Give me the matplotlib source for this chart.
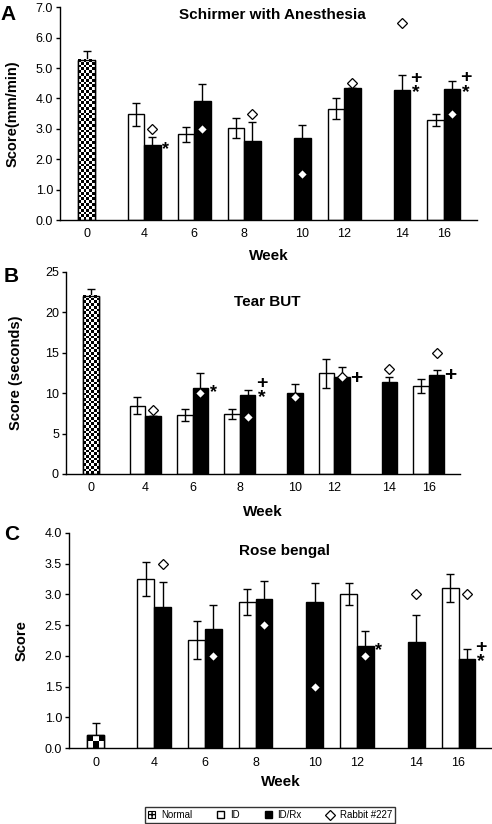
import numpy as np
import matplotlib.pyplot as plt
from matplotlib.patches import Patch
from matplotlib.lines import Line2D

plt.rcParams['font.family'] = ['Liberation Sans', 'DejaVu Sans']

nan = np.nan
weeks = ['4', '6', '8', '10', '12', '14', '16']

# A: Schirmer with anesthesia (mm/min)
schirmer_normal, schirmer_normal_err = 5.28, 0.28
schirmer_id = [3.48, 2.82, 3.02, nan, 3.67, nan, 3.29]
schirmer_id_err = [0.38, 0.25, 0.33, nan, 0.35, nan, 0.20]
schirmer_rx = [2.47, 3.93, 2.61, 2.71, 4.35, 4.28, 4.30]
schirmer_rx_err = [0.27, 0.55, 0.60, 0.42, 0.0, 0.50, 0.28]
schirmer_rabbit = [3.0, 3.0, 3.5, 1.5, 4.5, 6.5, 3.5]
schirmer_marks = ['*', '', '', '', '', '+*', '+*']

# B: Tear BUT (seconds)
but_normal, but_normal_err = 22.0, 0.85
but_id = [8.4, 7.3, 7.42, nan, 12.45, nan, 10.88]
but_id_err = [1.05, 0.75, 0.6, nan, 1.8, nan, 0.85]
but_rx = [7.2, 10.63, 9.77, 10.05, 12.03, 11.37, 12.28]
but_rx_err = [0.0, 1.8, 0.6, 1.05, 1.15, 0.6, 0.6]
but_rabbit = [7.9, 10.0, 7.0, 9.5, 12.0, 13.0, 15.0]
but_marks = ['', '*', '+*', '', '+', '', '+']

# C: Rose bengal score
rb_normal, rb_normal_err = 0.43, 0.40
rb_id = [3.25, 2.26, 2.88, nan, 3.0, nan, 3.1]
rb_id_err = [0.27, 0.31, 0.21, nan, 0.18, nan, 0.23]
rb_rx = [2.8, 2.43, 2.93, 2.87, 2.16, 2.22, 1.95]
rb_rx_err = [0.4, 0.4, 0.29, 0.32, 0.25, 0.45, 0.16]
rb_rabbit = [3.5, 2.0, 2.5, 1.5, 2.0, 3.0, 3.0]
rb_marks = ['', '', '', '', '*', '', '+*']

W = 0.33
NORMAL_X = -1.15
fig = plt.figure(figsize=(4.92, 8.24), dpi=100)


def checker(ax, bar, ncols):
    fig.canvas.draw()
    (x0, y0), (x1, y1) = bar.get_bbox().get_points()
    d0 = ax.transData.transform((x0, y0))
    d1 = ax.transData.transform((x1, y1))
    cell = abs(d1[0] - d0[0]) / ncols
    nrows = max(1, int(round(abs(d1[1] - d0[1]) / cell)))
    img = np.indices((nrows, ncols)).sum(axis=0) % 2
    xl, yl = ax.get_xlim(), ax.get_ylim()
    ax.imshow(img, cmap='gray', extent=(x0, x1, y0, y1), aspect='auto',
              interpolation='nearest', clip_path=bar, zorder=2.1)
    ax.bar(NORMAL_X, y1 - y0, W + 0.01, color='none', edgecolor='black',
           linewidth=1, zorder=2.2)
    ax.set_xlim(xl)
    ax.set_ylim(yl)


def panel(rect, title, ylabel, ymax, yticks, yfmt, normal, normal_err,
          idv, ide, rxv, rxe, rabbit, marks, letter, letter_y, title_y,
          ylab_x, xlab_pad, ncheck, scale=None):
    ax = fig.add_axes(rect)
    if scale is not None:
        ax.set_yscale('function', functions=scale)
    g = np.arange(len(weeks))
    idv, ide = np.array(idv), np.array(ide)
    has = ~np.isnan(idv)
    ek = dict(ecolor='black', elinewidth=1, capsize=2.8, capthick=1)
    nb = ax.bar(NORMAL_X, normal, W + 0.01, color='white', edgecolor='black',
                linewidth=1, yerr=normal_err, error_kw=ek, zorder=2)
    ax.bar(g[has] - W / 2, idv[has], W, yerr=ide[has], color='white',
           edgecolor='black', linewidth=1, error_kw=ek, zorder=2)
    ax.bar(g + W / 2, rxv, W, yerr=rxe, color='black', edgecolor='black',
           linewidth=1, error_kw=ek, zorder=2)
    ax.plot(g + W / 2, rabbit, 'D', ms=4.6, mfc='white', mec='black',
            mew=0.9, zorder=4, clip_on=False)
    # significance marks next to the ID/Rx bar
    for i, m in enumerate(marks):
        x = g[i] + W / 2
        if m == '*':
            ax.annotate('*', (x, rxv[i]), xytext=(9.5, -3.5),
                        textcoords='offset points', ha='center', va='center',
                        fontsize=13, fontweight='bold')
        elif m == '+':
            ax.annotate('+', (x, rxv[i]), xytext=(10, -1),
                        textcoords='offset points', ha='center', va='center',
                        fontsize=15, fontweight='bold')
        elif m == '+*':
            ax.annotate('+\n*', (x, rxv[i]), xytext=(10, 3),
                        textcoords='offset points', ha='center', va='center',
                        fontsize=14, fontweight='bold', linespacing=0.8)
    ax.set_xlim(-1.68, 6.66)
    ax.set_ylim(0, ymax)
    ax.set_yticks(yticks)
    ax.set_yticklabels([yfmt % t for t in yticks])
    ticks = [NORMAL_X] + [g[i] if has[i] else g[i] + W / 2 for i in g]
    ax.set_xticks(ticks)
    ax.set_xticklabels(['0'] + weeks)
    ax.tick_params(axis='x', length=0, pad=6, labelsize=9)
    ax.tick_params(axis='y', length=3, width=1, labelsize=9, pad=2)
    for s in ['top', 'right']:
        ax.spines[s].set_visible(False)
    for s in ['left', 'bottom']:
        ax.spines[s].set_linewidth(1)
    ax.set_xlabel('Week', fontsize=11, fontweight='bold', labelpad=xlab_pad)
    ax.set_ylabel(ylabel, fontsize=10.5, fontweight='bold')
    ax.yaxis.set_label_coords(ylab_x, 0.5)
    ax.text(0.51, title_y, title, transform=ax.transAxes, ha='center',
            va='center', fontsize=11, fontweight='bold')
    fig.text(0.0 if letter == 'A' else 0.008, letter_y, letter, fontsize=15,
             fontweight='bold', va='center')
    checker(ax, nb[0], ncheck)
    return ax


panel([0.122, 0.733, 0.8475, 0.2581], 'Schirmer with Anesthesia',
      'Score(mm/min)', 7.0, np.arange(0, 7.5, 1.0), '%.1f',
      schirmer_normal, schirmer_normal_err, schirmer_id, schirmer_id_err,
      schirmer_rx, schirmer_rx_err, schirmer_rabbit, schirmer_marks,
      'A', 1 - 14 / 824, 0.965, -0.097, 6, 6)

panel([0.134, 0.4248, 0.8008, 0.2455], 'Tear BUT', 'Score (seconds)', 25,
      [0, 5, 10, 15, 20, 25], '%d',
      but_normal, but_normal_err, but_id, but_id_err,
      but_rx, but_rx_err, but_rabbit, but_marks,
      'B', 1 - 276 / 824, 0.85, -0.109, 8, 6)


def fwd(v):
    v = np.asarray(v, float)
    return np.where(v <= 1, v * 0.5, v - 0.5)


def inv(u):
    u = np.asarray(u, float)
    return np.where(u <= 0.5, u * 2, u + 0.5)


panel([0.1402, 0.0919, 0.8598, 0.2616], 'Rose bengal', 'Score', 4.0,
      [0.0, 1.0, 1.5, 2.0, 2.5, 3.0, 3.5, 4.0], '%.1f',
      rb_normal, rb_normal_err, rb_id, rb_id_err,
      rb_rx, rb_rx_err, rb_rabbit, rb_marks,
      'C', 1 - 534 / 824, 0.915, -0.095, 4.5, 3, scale=(fwd, inv))

handles = [Patch(facecolor='white', edgecolor='black', hatch='++++', lw=0.8),
           Patch(facecolor='white', edgecolor='black', lw=1),
           Patch(facecolor='black', edgecolor='black'),
           Line2D([], [], ls='none', marker='D', ms=5, mfc='white',
                  mec='black', mew=0.9)]
leg = fig.legend(handles, ['Normal', 'ID', 'ID/Rx', 'Rabbit #227'],
                 loc='center', bbox_to_anchor=(270 / 492, 1 - 815 / 824),
                 ncol=4, fontsize=7, frameon=True, fancybox=False,
                 edgecolor='black', handlelength=0.7, handleheight=0.7,
                 handletextpad=0.6, columnspacing=2.6, borderpad=0.3)
leg.get_frame().set_linewidth(1)

fig.savefig('out.png', dpi=100)
